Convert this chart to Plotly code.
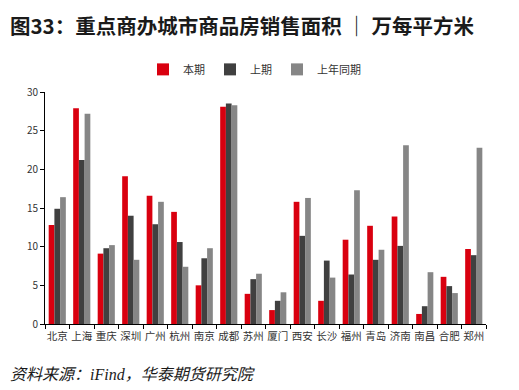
import plotly.graph_objects as go

cities = ["北京", "上海", "重庆", "深圳", "广州", "杭州", "南京", "成都", "苏州",
          "厦门", "西安", "长沙", "福州", "青岛", "济南", "南昌", "合肥", "郑州"]
current = [12.8, 27.9, 9.1, 19.1, 16.6, 14.5, 5.0, 28.1, 3.9,
           1.8, 15.8, 3.0, 10.9, 12.7, 13.9, 1.3, 6.1, 9.7]
previous = [14.9, 21.2, 9.8, 14.0, 12.9, 10.6, 8.5, 28.5, 5.8,
            3.0, 11.4, 8.2, 6.4, 8.3, 10.1, 2.3, 4.9, 8.9]
last_year = [16.4, 27.2, 10.2, 8.3, 15.8, 7.4, 9.8, 28.3, 6.5,
             4.1, 16.3, 6.0, 17.3, 9.6, 23.1, 6.7, 4.0, 22.8]
series_names = ["本期", "上期", "上年同期"]
colors = ["#D9000F", "#404040", "#868686"]

font_family = "Noto Sans CJK SC"

fig = go.Figure()
for name, vals, c in zip(series_names, [current, previous, last_year], colors):
    fig.add_trace(go.Bar(x=cities, y=vals, name=name, marker_color=c,
                         marker_line_width=0))

# page body has an 8px default margin, so the figure is sized 8px smaller
fig.update_layout(
    width=511, height=382,
    paper_bgcolor="white", plot_bgcolor="white",
    margin=dict(l=37, r=33, t=84, b=66, autoexpand=False),
    barmode="group", bargap=0.3, bargroupgap=0,
    font=dict(family=font_family, size=11, color="#333333"),
    showlegend=True,
    legend=dict(orientation="h", x=0.475, xanchor="center", y=1.035, yanchor="bottom",
                font=dict(size=11, color="#333333"), itemwidth=30,
                tracegroupgap=0),
    annotations=[
        dict(text="<b>图33：重点商办城市商品房销售面积 ｜ 万每平方米</b>",
             x=0, y=1, xref="paper", yref="paper", xanchor="left", yanchor="top",
             showarrow=False, font=dict(size=20.5, color="#1a1a1a", family=font_family),
             xshift=-37, yshift=84),
        dict(text="<i>资料来源：<span style='font-family:Liberation Serif'>iFind</span>，华泰期货研究院</i>",
             x=0, y=0, xref="paper", yref="paper", xanchor="left", yanchor="top",
             showarrow=False, font=dict(size=16, color="#1a1a1a", family=font_family),
             xshift=-37, yshift=-35),
    ],
)
fig.update_xaxes(showline=True, linecolor="#000000", linewidth=1,
                 ticks="outside", ticklen=4, tickcolor="#000000",
                 tickson="boundaries", showgrid=False, tickangle=0,
                 automargin=False, ticklabelstandoff=2,
                 tickfont=dict(size=10.5, color="#333333"))
fig.update_yaxes(range=[0, 30], dtick=5, showline=True, linecolor="#000000",
                 linewidth=1, ticks="outside", ticklen=4, tickcolor="#000000",
                 showgrid=False, zeroline=False, automargin=False,
                 tickfont=dict(size=10, color="#333333"))

fig.write_html("out.html")
